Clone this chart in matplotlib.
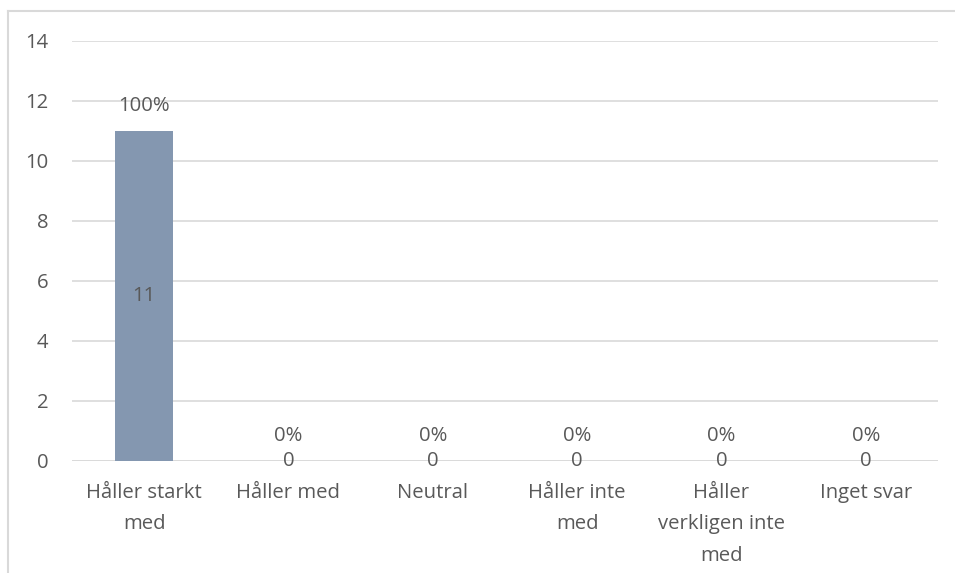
import matplotlib
matplotlib.use("Agg")
import matplotlib.pyplot as plt
from matplotlib.lines import Line2D

plt.rcParams['font.family'] = ['Open Sans', 'DejaVu Sans']

categories = ["Håller starkt\nmed", "Håller med", "Neutral", "Håller inte\nmed",
              "Håller\nverkligen inte\nmed", "Inget svar"]
counts = [11, 0, 0, 0, 0, 0]
percent_labels = ["100%", "0%", "0%", "0%", "0%", "0%"]
y_ticks = [0, 2, 4, 6, 8, 10, 12, 14]

W, H = 955, 573
fig = plt.figure(figsize=(W / 100, H / 100), dpi=100)
ax = fig.add_axes([72 / W, 1 - 461 / H, (938 - 72) / W, (461 - 41) / H])

text_color = "#595959"
grid_color = "#d9d9d9"
bar_color = "#8497b0"
fs = 14.6

x = list(range(len(categories)))
ax.bar(x, counts, width=0.40, color=bar_color, zorder=3)

ax.set_xlim(-0.5, len(categories) - 0.5)
ax.set_ylim(0, 14)
ax.set_yticks(y_ticks)
ax.set_yticklabels([str(t) for t in y_ticks])
ax.set_xticks(x)
ax.set_xticklabels(categories, linespacing=1.75)

ax.yaxis.grid(True, color=grid_color, linewidth=1.2, zorder=0)
for s in ax.spines.values():
    s.set_visible(False)
ax.axhline(0, color=grid_color, linewidth=1.2, zorder=1)
ax.tick_params(axis='both', length=0, labelsize=fs, colors=text_color)
ax.tick_params(axis='y', pad=17)
ax.tick_params(axis='x', pad=16)
for lbl in ax.get_xticklabels():
    lbl.set_verticalalignment('top')

# Value labels: count at bar centre, percent above bar end
for xi, c, p in zip(x, counts, percent_labels):
    ax.text(xi, c / 2, str(c), ha='center', va='center', fontsize=fs, color=text_color, zorder=4)
    ax.annotate(p, (xi, c), xytext=(0, 18), textcoords='offset points',
                ha='center', va='center', fontsize=fs, color=text_color, zorder=4)

# Chart area border (top and left edges)
fig.add_artist(Line2D([8 / W, 1], [1 - 11 / H, 1 - 11 / H], transform=fig.transFigure,
                      color=grid_color, linewidth=1.5))
fig.add_artist(Line2D([8 / W, 8 / W], [0, 1 - 11 / H], transform=fig.transFigure,
                      color=grid_color, linewidth=1.5))

fig.savefig("out.png", dpi=100, facecolor="white")
